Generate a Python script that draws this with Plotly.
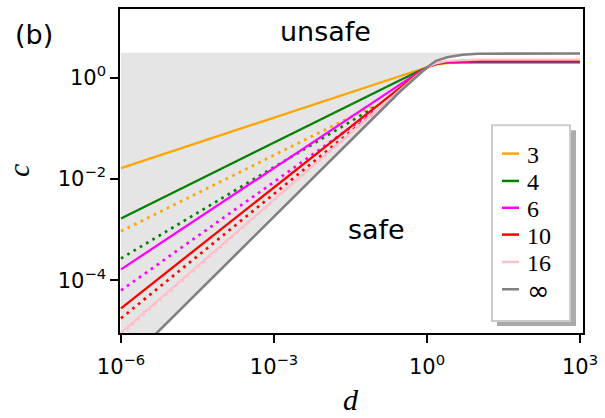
import plotly.graph_objects as go

# ---------------- data ----------------
labels = ["3", "4", "6", "10", "16", "∞"]
colors = ["#FFA500", "#008000", "#FF00FF", "#FF0000", "#FFC0CB", "#808080"]

d_solid = [1e-6, 1e-1, 0.3, 0.6, 1.0, 1.5, 2.5, 5.0, 10.0, 1e3]
c_n3 = [0.0164, 0.764, 1.10, 1.38, 1.60, 1.80, 1.93, 1.98, 1.98, 1.98]
c_n4 = [0.00166, 0.52, 0.89, 1.26, 1.58, 1.84, 1.99, 2.03, 2.03, 2.03]
c_n6 = [1.64e-4, 0.355, 0.74, 1.17, 1.58, 1.86, 2.03, 2.08, 2.08, 2.08]
c_n10 = [2.8e-5, 0.26, 0.63, 1.10, 1.57, 1.88, 2.08, 2.13, 2.14, 2.14]
c_n16 = [9.3e-6, 0.22, 0.575, 1.05, 1.55, 1.91, 2.14, 2.23, 2.25, 2.25]
c_inf = [1.82e-6, 0.182, 0.537, 1.0, 1.58, 2.14, 2.51, 2.82, 2.95, 2.99]

d_dot = [1e-6, 1e-1]
c_dot_n3 = [9.3e-4, 0.295]
c_dot_n4 = [2.7e-4, 0.27]
c_dot_n6 = [6.3e-5, 0.234]
c_dot_n10 = [1.78e-5, 0.219]
c_dot_n16 = [8.5e-6, 0.219]

c_unsafe_top = 3.1

solid_series = [c_n3, c_n4, c_n6, c_n10, c_n16, c_inf]
dot_series = [c_dot_n3, c_dot_n4, c_dot_n6, c_dot_n10, c_dot_n16]

# ---------------- figure ----------------
W, H = 605, 418
L, R, T, B = 120, 22, 7, 85
PW, PH = W - L - R, H - T - B


def px(x):
    return (x - L) / PW


def py(y):
    return (H - B - y) / PH


fig = go.Figure()

# shaded region between the infinity curve and the top boundary
fig.add_trace(go.Scatter(x=d_solid, y=[c_unsafe_top] * len(d_solid), mode="lines",
                         line=dict(width=0), hoverinfo="skip", showlegend=False))
fig.add_trace(go.Scatter(x=d_solid, y=c_inf, mode="lines", fill="tonexty",
                         fillcolor="#e5e5e5", line=dict(width=0),
                         hoverinfo="skip", showlegend=False))

for ys, col in zip(dot_series, colors[:5]):
    fig.add_trace(go.Scatter(x=d_dot, y=ys, mode="lines", showlegend=False,
                             line=dict(color=col, width=2.7, dash="2.7px,4.6px")))

for ys, col, lab in zip(solid_series, colors, labels):
    fig.add_trace(go.Scatter(x=d_solid, y=ys, mode="lines", name=lab, showlegend=False,
                             line=dict(color=col, width=2.6 if lab == "∞" else 2.3)))

axis_common = dict(type="log", showline=True, linecolor="black", linewidth=1.5, mirror=True,
                   ticks="outside", ticklen=8, tickwidth=1.5, tickcolor="black",
                   showgrid=False, zeroline=False,
                   tickfont=dict(family="DejaVu Sans", size=21, color="black"))

fig.update_layout(
    width=W, height=H,
    margin=dict(l=L, r=R, t=T, b=B),
    paper_bgcolor="white", plot_bgcolor="white",
    showlegend=False,
    xaxis=dict(range=[-6.02, 3.06],
               tickvals=[1e-6, 1e-3, 1, 1e3],
               ticktext=["10<sup>−6</sup>", "10<sup>−3</sup>", "10<sup>0</sup>", "10<sup>3</sup>"],
               ticklabelstandoff=6,
               **axis_common),
    yaxis=dict(range=[-5.04, 1.353],
               tickvals=[1e-4, 1e-2, 1],
               ticktext=["10<sup>−4</sup>", "10<sup>−2</sup>", "10<sup>0</sup>"],
               **axis_common),
)


def note(text, x, y, font, **kw):
    fig.add_annotation(text=text, x=px(x), y=py(y), xref="paper", yref="paper",
                       showarrow=False, font=font,
                       xanchor=kw.pop("xanchor", "center"),
                       yanchor=kw.pop("yanchor", "middle"), **kw)


ann_font = dict(family="DejaVu Sans", size=27, color="black")
note("unsafe", 325, 30, ann_font)
note("safe", 376, 229, ann_font)
note("(b)", 34, 33, ann_font)
note("<i>d</i>", 351, 400, dict(family="Liberation Serif", size=30, color="black"))
note("<i>c</i>", 18, 170, dict(family="Liberation Serif", size=30, color="black"),
     textangle=-90)

# legend (drawn manually)
shapes = []
shapes.append(dict(type="rect", xref="paper", yref="paper",
                   x0=px(497), x1=px(576), y0=py(326), y1=py(129),
                   fillcolor="#aaaaaa", line=dict(width=0), layer="above"))
shapes.append(dict(type="rect", xref="paper", yref="paper",
                   x0=px(492), x1=px(570), y0=py(321), y1=py(124),
                   fillcolor="white", line=dict(color="#cccccc", width=2), layer="above"))
row_y = [152.5, 180, 207, 234, 261.5, 289]
for lab, col, yy in zip(labels, colors, row_y):
    shapes.append(dict(type="line", xref="paper", yref="paper",
                       x0=px(502), x1=px(519), y0=py(yy), y1=py(yy),
                       line=dict(color=col, width=2.5), layer="above"))
    if lab == "∞":
        f = dict(family="DejaVu Sans", size=27, color="black")
    else:
        f = dict(family="Liberation Serif", size=24, color="black")
    note(lab, 525, yy + 1, f, xanchor="left")
fig.update_layout(shapes=shapes)

fig.write_html("out.html", config={"displayModeBar": False},
               post_script="document.body.style.margin='0';document.body.style.padding='0';")
